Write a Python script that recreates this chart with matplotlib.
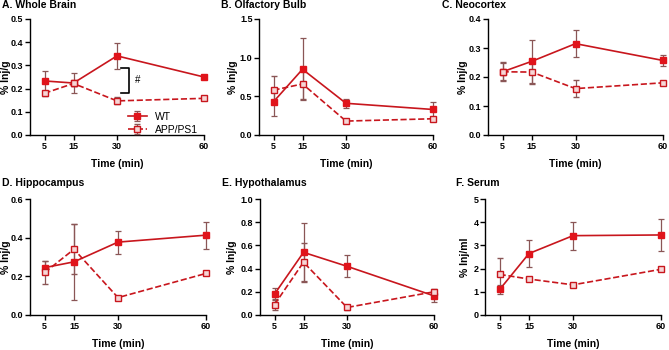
import numpy as np
import matplotlib.pyplot as plt

plt.rcParams['font.family'] = ['Liberation Sans', 'DejaVu Sans']
plt.rcParams['font.weight'] = 'bold'

times = [5, 15, 30, 60]

titles = ['A. Whole Brain', 'B. Olfactory Bulb', 'C. Neocortex',
          'D. Hippocampus', 'E. Hypothalamus', 'F. Serum']
ylabels = ['% Inj/g', '% Inj/g', '% Inj/g', '% Inj/g', '% Inj/g', '% Inj/ml']
ymax = [0.5, 1.5, 0.4, 0.6, 1.0, 5]
ystep = [0.1, 0.5, 0.1, 0.2, 0.2, 1]
yfmt = ['%.1f', '%.1f', '%.1f', '%.1f', '%.1f', '%d']

wt_mean = [
    [0.233, 0.224, 0.341, 0.250],
    [0.43, 0.85, 0.41, 0.33],
    [0.218, 0.254, 0.315, 0.257],
    [0.245, 0.275, 0.377, 0.413],
    [0.18, 0.54, 0.42, 0.165],
    [1.1, 2.65, 3.42, 3.45],
]
wt_err = [
    [0.043, 0.045, 0.055, 0.010],
    [0.18, 0.40, 0.06, 0.10],
    [0.030, 0.075, 0.047, 0.020],
    [0.035, 0.195, 0.060, 0.070],
    [0.05, 0.25, 0.095, 0.05],
    [0.2, 0.58, 0.6, 0.7],
]
app_mean = [
    [0.180, 0.222, 0.147, 0.158],
    [0.58, 0.66, 0.18, 0.21],
    [0.218, 0.217, 0.160, 0.180],
    [0.220, 0.340, 0.090, 0.215],
    [0.09, 0.455, 0.065, 0.20],
    [1.75, 1.55, 1.30, 1.97],
]
app_err = [
    [0.010, 0.010, 0.015, 0.005],
    [0.18, 0.20, 0.02, 0.02],
    [0.033, 0.040, 0.030, 0.005],
    [0.060, 0.130, 0.005, 0.005],
    [0.05, 0.17, 0.02, 0.02],
    [0.7, 0.05, 0.05, 0.05],
]

red = '#e0141b'
line_red = '#c8161d'
err_col = '#8a5656'

W, H = 669, 350
fig = plt.figure(figsize=(W / 100, H / 100), dpi=100)

lefts = [30, 259, 488, 30, 260, 485]
widths = [174, 174, 175, 176, 174, 176]
tops = [19, 19, 19, 199, 199, 199]
bottoms = [135, 135, 135, 315, 315, 315]
title_x = [2, 221, 442, 2, 222, 456]
title_y = [5, 5, 5, 183, 183, 183]
# right edge of the rotated y label, in pixels
ylab_x = [11, 238, 468, 11, 237, 470]

for i in range(6):
    ax = fig.add_axes([lefts[i] / W, 1 - bottoms[i] / H,
                       widths[i] / W, (bottoms[i] - tops[i]) / H])
    ax.errorbar(times, wt_mean[i], yerr=wt_err[i], color=line_red, lw=1.2,
                marker='s', ms=5, mfc=red, mec=red, ecolor=err_col,
                elinewidth=0.9, capsize=2.5, capthick=0.9, label='WT',
                clip_on=False, zorder=3)
    ax.errorbar(times, app_mean[i], yerr=app_err[i], color=line_red, lw=1.2,
                ls='--', marker='s', ms=5, mfc='#f6d6d6', mec=line_red, mew=1.0,
                ecolor=err_col, elinewidth=0.9, capsize=2.5, capthick=0.9,
                label='APP/PS1', clip_on=False, zorder=3)
    ax.set_xlim(0, 60)
    ax.set_ylim(0, ymax[i])
    ax.set_xticks(times)
    yt = np.arange(0, ymax[i] + ystep[i] / 2, ystep[i])
    ax.set_yticks(yt)
    ax.set_yticklabels([yfmt[i] % v for v in yt])
    ax.spines['top'].set_visible(False)
    ax.spines['right'].set_visible(False)
    ax.spines['left'].set_linewidth(1.0)
    ax.spines['bottom'].set_linewidth(1.0)
    ax.tick_params(labelsize=6.5, width=1.0, length=3.5, pad=1.2)
    ax.set_xlabel('Time (min)', fontsize=7.5, fontweight='bold', labelpad=6)
    ax.set_ylabel(ylabels[i], fontsize=7.5, fontweight='bold')
    ax.yaxis.set_label_coords((ylab_x[i] - lefts[i]) / widths[i], 0.5)
    fig.text(title_x[i] / W, 1 - title_y[i] / H, titles[i],
             fontsize=7.5, fontweight='bold', va='center', ha='left')

    if i == 0:
        # significance bracket at 30 min
        ax.plot([31.5, 34, 34, 31.5], [0.29, 0.29, 0.18, 0.18], color='black', lw=1.2)
        ax.text(37, 0.235, '#', fontsize=7, fontweight='normal', va='center', ha='center')
        ax.legend(loc='lower right', bbox_to_anchor=(1.02, -0.08), frameon=False,
                  handlelength=1.8, labelspacing=0.3,
                  prop={'weight': 'normal', 'size': 7.5})

fig.savefig('out.png', dpi=100)
